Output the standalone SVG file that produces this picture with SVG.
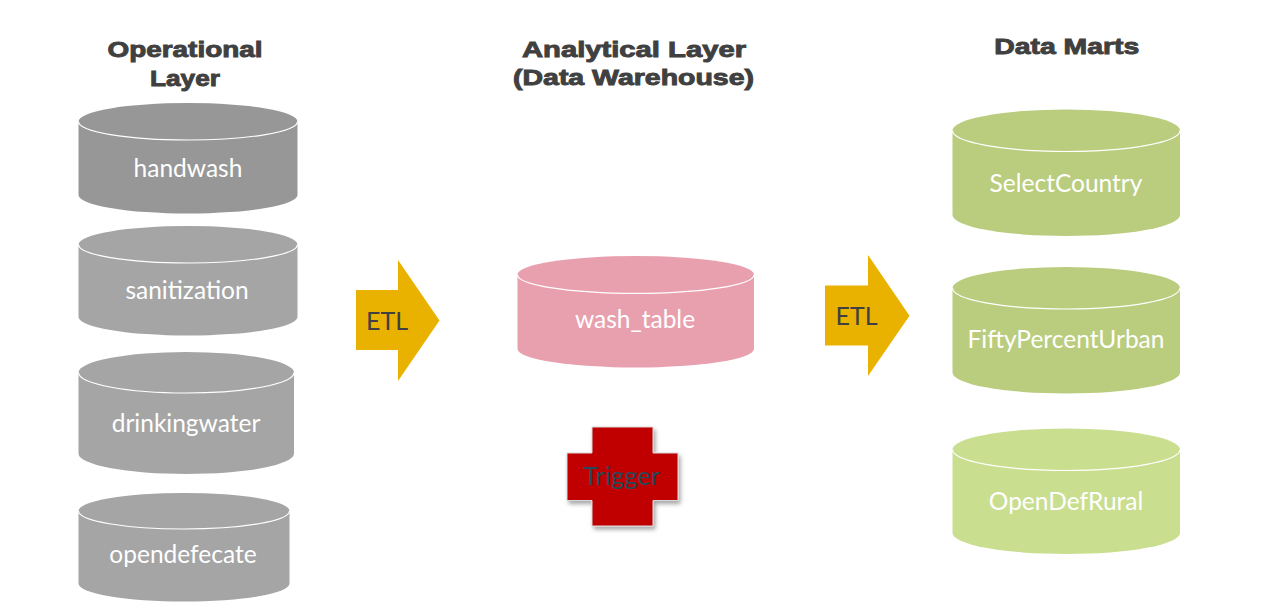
<svg xmlns="http://www.w3.org/2000/svg" width="1287" height="613" viewBox="0 0 1287 613">
<style>
.title{font-family:"Liberation Sans",Arial,sans-serif;font-weight:bold;font-size:22px;fill:#404040;stroke:#404040;stroke-width:0.9;text-anchor:middle}
.lbl{font-family:Lato,"Open Sans",sans-serif;font-size:24.5px;fill:#ffffff;text-anchor:middle}
.etl{font-family:Lato,"Open Sans",sans-serif;font-size:25px;fill:#404040;text-anchor:middle}
.rim{fill:none;stroke:#ffffff;stroke-width:1.2}
.arrow{fill:#E9B200}
</style>
<defs>
<filter id="sh" x="-20%" y="-20%" width="150%" height="150%">
<feDropShadow dx="2" dy="3" stdDeviation="2" flood-color="#000000" flood-opacity="0.35"/>
</filter>
</defs>
<rect width="1287" height="613" fill="#ffffff"/>

<g id="titles">
<text class="title" x="185" y="57" textLength="155" lengthAdjust="spacingAndGlyphs">Operational</text>
<text class="title" x="185" y="86" textLength="70" lengthAdjust="spacingAndGlyphs">Layer</text>
<text class="title" x="634" y="57" textLength="224" lengthAdjust="spacingAndGlyphs">Analytical Layer</text>
<text class="title" x="633.5" y="85" textLength="241" lengthAdjust="spacingAndGlyphs">(Data Warehouse)</text>
<text class="title" x="1066.7" y="53.5" textLength="145" lengthAdjust="spacingAndGlyphs">Data Marts</text>
</g>

<g id="handwash">
<path d="M78.5,121.5 A109.5,18.5 0 0 1 297.5,121.5 V195 A109.5,18.5 0 0 1 78.5,195 Z" fill="#979797"/>
<path class="rim" d="M78.5,121.5 A109.5,18.5 0 0 0 297.5,121.5"/>
<text class="lbl" x="188" y="177.3">handwash</text>
</g>
<g id="sanitization">
<path d="M78.5,244.5 A109.5,18.5 0 0 1 297.5,244.5 V317 A109.5,18.5 0 0 1 78.5,317 Z" fill="#A5A5A5"/>
<path class="rim" d="M78.5,244.5 A109.5,18.5 0 0 0 297.5,244.5"/>
<text class="lbl" x="187" y="299.3">sanitization</text>
</g>
<g id="drinkingwater">
<path d="M78.5,372.5 A107.75,20.5 0 0 1 294,372.5 V453.5 A107.75,20.5 0 0 1 78.5,453.5 Z" fill="#A5A5A5"/>
<path class="rim" d="M78.5,372.5 A107.75,20.5 0 0 0 294,372.5"/>
<text class="lbl" x="186" y="431.7">drinkingwater</text>
</g>
<g id="opendefecate">
<path d="M78.5,511 A105.5,18 0 0 1 289.5,511 V583.5 A105.5,18 0 0 1 78.5,583.5 Z" fill="#A5A5A5"/>
<path class="rim" d="M78.5,511 A105.5,18 0 0 0 289.5,511"/>
<text class="lbl" x="183" y="563.3">opendefecate</text>
</g>

<g id="connectors">
<g id="etl1">
<path class="arrow" d="M356,290 H398 V260 L439.5,320.5 L398,381 V350 H356 Z"/>
<text class="etl" x="387" y="330">ETL</text>
</g>
<g id="etl2">
<path class="arrow" d="M825,285.5 H868 V255 L909.5,315.7 L868,376 V345.5 H825 Z"/>
<text class="etl" x="856.5" y="325">ETL</text>
</g>
</g>

<g id="wash_table">
<path d="M517.5,274.7 A118.25,18.7 0 0 1 754,274.7 V348.8 A118.25,18.7 0 0 1 517.5,348.8 Z" fill="#E8A0AF"/>
<path class="rim" d="M517.5,274.7 A118.25,18.7 0 0 0 754,274.7"/>
<text class="lbl" x="635" y="328.3">wash_table</text>
</g>

<g id="trigger">
<path d="M592,427 H653 V453 H678 V500.5 H653 V526 H592 V500.5 H567 V453 H592 Z" fill="#C00000" stroke="#d8d8d8" stroke-width="1" filter="url(#sh)"/>
<text x="621.7" y="485" font-family="Lato,'Open Sans',sans-serif" font-size="25.5px" fill="#254B5A" text-anchor="middle">Trigger</text>
</g>

<g id="SelectCountry">
<path d="M952.5,130.5 A113.75,21 0 0 1 1180,130.5 V215 A113.75,21 0 0 1 952.5,215 Z" fill="#BACD7E"/>
<path class="rim" d="M952.5,130.5 A113.75,21 0 0 0 1180,130.5"/>
<text class="lbl" x="1066" y="191.7">SelectCountry</text>
</g>
<g id="FiftyPercentUrban">
<path d="M952.5,288 A113.75,21 0 0 1 1180,288 V372.5 A113.75,21 0 0 1 952.5,372.5 Z" fill="#BACD7E"/>
<path class="rim" d="M952.5,288 A113.75,21 0 0 0 1180,288"/>
<text class="lbl" x="1066" y="348.3">FiftyPercentUrban</text>
</g>
<g id="OpenDefRural">
<path d="M952.5,449.5 A113.75,21 0 0 1 1180,449.5 V533 A113.75,21 0 0 1 952.5,533 Z" fill="#CADE90"/>
<path class="rim" d="M952.5,449.5 A113.75,21 0 0 0 1180,449.5"/>
<text class="lbl" x="1066" y="510">OpenDefRural</text>
</g>
</svg>
